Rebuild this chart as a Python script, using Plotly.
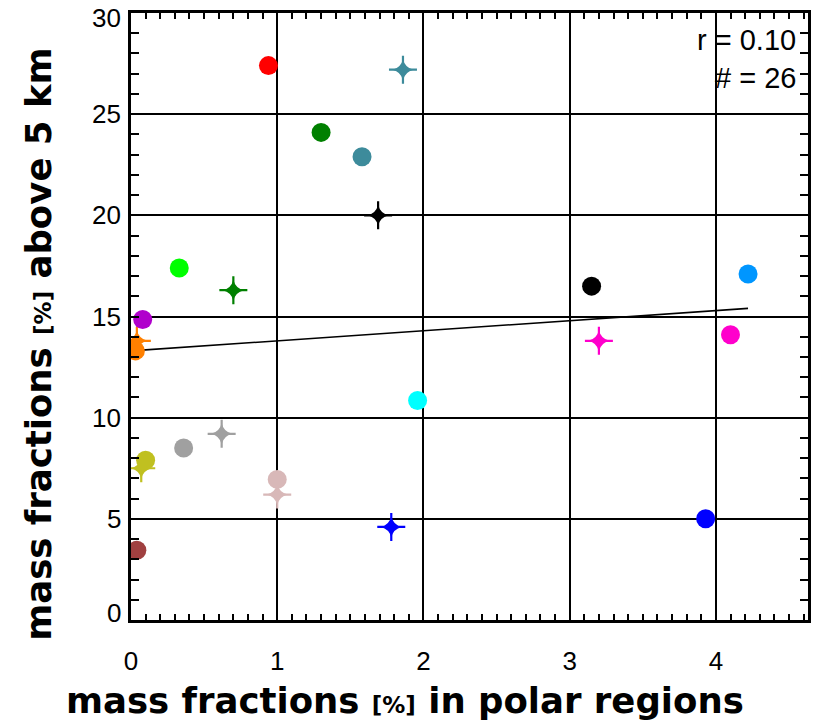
import plotly.graph_objects as go

# circles (one per model)
circ_x = [0.94, 1.30, 1.58, 0.33, 0.08, 0.03, 3.15, 4.22, 4.10, 1.96, 0.36, 0.10, 1.00, 3.93, 0.04]
circ_y = [27.4, 24.1, 22.9, 17.4, 14.85, 13.3, 16.5, 17.1, 14.1, 10.85, 8.5, 7.9, 6.95, 5.0, 3.45]
circ_c = ["#ff0000", "#008000", "#3d8b9b", "#00ff00", "#b000cc", "#ff8000", "#000000",
          "#0096ff", "#ff00cc", "#00ffff", "#a0a0a0", "#c0c020", "#d8b8b8", "#0000ff", "#a04040"]

# stars
star_x = [1.86, 1.69, 0.70, 0.04, 3.20, 0.62, 0.07, 1.00, 1.78]
star_y = [27.2, 20.0, 16.3, 13.8, 13.8, 9.2, 7.5, 6.2, 4.6]
star_c = ["#3d8b9b", "#000000", "#008000", "#ff8000", "#ff00cc", "#a0a0a0", "#c0c020", "#d8b8b8", "#0000ff"]

# regression line
fit_x = [0.0, 4.22]
fit_y = [13.3, 15.4]

x_ticks = [0, 1, 2, 3, 4]
y_ticks = [0, 5, 10, 15, 20, 25, 30]
y_tick_labels = ["0", "5", "10", "15", "20", "25", "30"]

fig = go.Figure()
fig.add_trace(go.Scatter(x=fit_x, y=fit_y, mode="lines",
                         line=dict(color="black", width=1.6), showlegend=False))
fig.add_trace(go.Scatter(x=star_x, y=star_y, mode="markers",
                         marker=dict(symbol="cross-thin", size=20, color=star_c,
                                     line=dict(width=2.2, color=star_c)), showlegend=False))
fig.add_trace(go.Scatter(x=star_x, y=star_y, mode="markers",
                         marker=dict(symbol="star-diamond", size=15, color=star_c,
                                     line=dict(width=0)), showlegend=False))
fig.add_trace(go.Scatter(x=circ_x, y=circ_y, mode="markers",
                         marker=dict(symbol="circle", size=19, color=circ_c,
                                     line=dict(width=0)), showlegend=False))

tickfont = dict(family="Liberation Sans", size=26, color="black")
fig.update_xaxes(range=[0, 4.63], tickvals=x_ticks, ticks="inside", ticklen=8, tickwidth=2,
                 tickcolor="black", showgrid=True, gridcolor="black", gridwidth=2,
                 showline=True, linecolor="black", linewidth=2.5, mirror="ticks",
                 zeroline=False, tickfont=tickfont, ticklabelstandoff=16, automargin=False,
                 minor=dict(dtick=0.1, ticks="inside", ticklen=6, tickwidth=1.5,
                            tickcolor="black", showgrid=False))
fig.update_yaxes(range=[0, 30], tickvals=y_ticks, ticks="inside", ticklen=8, tickwidth=2,
                 tickcolor="black", showgrid=True, gridcolor="black", gridwidth=2,
                 showline=True, linecolor="black", linewidth=2.5, mirror="ticks",
                 zeroline=False, showticklabels=False, automargin=False,
                 minor=dict(dtick=1, ticks="inside", ticklen=8, tickwidth=1.5,
                            tickcolor="black", showgrid=False))

# y tick labels (edge labels nudged inward as in the original)
for v, t in zip(y_ticks, y_tick_labels):
    shift = -5 if v == y_ticks[-1] else (7 if v == y_ticks[0] else 0)
    fig.add_annotation(text=t, xref="paper", yref="y", x=0, y=v, xshift=-8, yshift=shift,
                       showarrow=False, font=tickfont, xanchor="right", yanchor="middle")

titlefont = dict(family="DejaVu Sans", size=35.5, color="black")
fig.add_annotation(text='<b>mass fractions <span style="font-size:23px">[%]</span> in polar regions</b>',
                   xref="paper", yref="paper", x=0.405, y=-0.132, showarrow=False,
                   font=titlefont, xanchor="center", yanchor="middle")
fig.add_annotation(text='<b>mass fractions <span style="font-size:23px">[%]</span> above 5 km</b>',
                   xref="paper", yref="paper", x=-0.136, y=0.455, showarrow=False,
                   font=titlefont, textangle=-90, xanchor="center", yanchor="middle")

annfont = dict(family="Liberation Sans", size=29, color="black")
fig.add_annotation(text="r = 0.10", xref="paper", yref="paper", x=0.985, y=(620 - 40) / 607,
                   showarrow=False, font=annfont, xanchor="right", yanchor="middle")
fig.add_annotation(text="# = 26", xref="paper", yref="paper", x=0.985, y=(620 - 78) / 607,
                   showarrow=False, font=annfont, xanchor="right", yanchor="middle")

fig.update_layout(width=813, height=727, margin=dict(l=131, r=5, t=13, b=107, autoexpand=False),
                  plot_bgcolor="white", paper_bgcolor="white")
fig.write_html("out.html")
